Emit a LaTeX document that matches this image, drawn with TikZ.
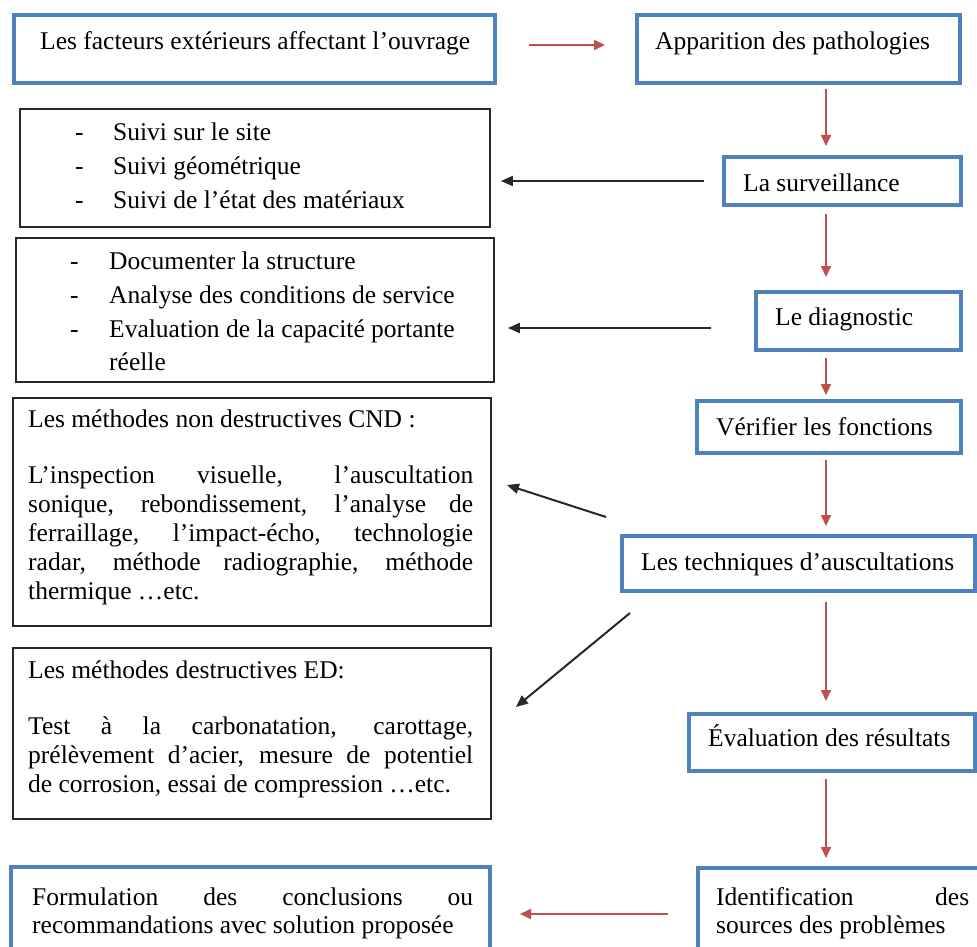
\documentclass[tikz,border=0pt]{standalone}
\usepackage{fontspec}
\setmainfont{Liberation Serif}
\usetikzlibrary{arrows.meta,calc}
\definecolor{bx}{RGB}{79,129,189}
\definecolor{rd}{RGB}{192,80,77}
\definecolor{dk}{RGB}{40,40,40}
\newcommand{\fs}{\fontsize{25.5}{28.5}\selectfont}
\newcommand{\jline}[2]{\makebox[#1][s]{#2}}
\begin{document}
\begin{tikzpicture}[x=1pt,y=-1pt,
 bluebox/.style={draw=bx, line width=4pt, inner sep=0pt, rectangle},
 blackbox/.style={draw=dk, line width=1.8pt, inner sep=0pt, rectangle},
 txt/.style={anchor=base west, inner sep=0pt, font=\fs, text=black},
 redarr/.style={draw=rd, line width=1.8pt, -{Triangle[length=11pt,width=10pt]}},
 blkarr/.style={draw=dk, line width=2pt, -{Triangle[length=12pt,width=10pt]}}]
\clip (0,0) rectangle (977,947);
\fill[white] (0,0) rectangle (977,947);
% blue boxes
\node[bluebox, minimum width=481pt, minimum height=68pt] (A) at (254.5,49) {};
\node[bluebox, minimum width=323pt, minimum height=68pt] (B) at (798.5,49) {};
\node[bluebox, minimum width=237pt, minimum height=48pt] (C) at (842.5,181) {};
\node[bluebox, minimum width=205pt, minimum height=58pt] (E) at (858.5,321) {};
\node[bluebox, minimum width=264pt, minimum height=52pt] (G) at (829,427) {};
\node[bluebox, minimum width=353pt, minimum height=55pt] (H) at (798.5,563.5) {};
\node[bluebox, minimum width=286pt, minimum height=57pt] (J) at (832,742.5) {};
\node[bluebox, minimum width=292pt, minimum height=92pt] (M) at (844,914) {};
\node[bluebox, minimum width=479pt, minimum height=93pt] (L) at (250.5,913.5) {};
% black boxes
\node[blackbox, minimum width=470pt, minimum height=118pt] (D) at (255,168) {};
\node[blackbox, minimum width=478pt, minimum height=144pt] (F) at (255,310) {};
\node[blackbox, minimum width=478pt, minimum height=228pt] (I) at (252,512) {};
\node[blackbox, minimum width=478pt, minimum height=171pt] (K) at (252,733.5) {};
% texts
\node[txt] (tA) at (40,50) {Les facteurs extérieurs affectant l’ouvrage};
\node[txt] (tB) at (655,50) {Apparition des pathologies};
\node[txt] (tC) at (743,191) {La surveillance};
\node[txt] (tE) at (775,325) {Le diagnostic};
\node[txt] (tG) at (716,435) {Vérifier les fonctions};
\node[txt] (tH) at (641,570) {Les techniques d’auscultations};
\node[txt] (tJ) at (708,746) {Évaluation des résultats};
% D list
\node[txt] (dD1) at (75,141) {-};
\node[txt] (dD2) at (75,175) {-};
\node[txt] (dD3) at (75,208) {-};
\node[txt] (tD1) at (113,141) {Suivi sur le site};
\node[txt] (tD2) at (113,175) {Suivi géométrique};
\node[txt] (tD3) at (113,208) {Suivi de l’état des matériaux};
% F list
\node[txt] (dF1) at (70,269) {-};
\node[txt] (dF2) at (70,303) {-};
\node[txt] (dF3) at (70,337) {-};
\node[txt] (tF1) at (109,269) {Documenter la structure};
\node[txt] (tF2) at (109,303) {Analyse des conditions de service};
\node[txt] (tF3) at (109,337) {Evaluation de la capacité portante};
\node[txt] (tF4) at (109,370) {réelle};
% I
\node[txt] (tI0) at (28,427) {Les méthodes non destructives CND :};
\node[txt] (tI1) at (28,483) {\jline{445pt}{L’inspection visuelle, l’auscultation}};
\node[txt] (tI2) at (28,512) {\jline{445pt}{sonique, rebondissement, l’analyse de}};
\node[txt] (tI3) at (28,541) {\jline{445pt}{ferraillage, l’impact-écho, technologie}};
\node[txt] (tI4) at (28,570) {\jline{445pt}{radar, méthode radiographie, méthode}};
\node[txt] (tI5) at (28,599) {thermique …etc.};
% K
\node[txt] (tK0) at (28,678) {Les méthodes destructives ED:};
\node[txt] (tK1) at (28,734) {\jline{445pt}{Test à la carbonatation, carottage,}};
\node[txt] (tK2) at (28,763) {\jline{445pt}{prélèvement d’acier, mesure de potentiel}};
\node[txt] (tK3) at (28,792) {de corrosion, essai de compression …etc.};
% L
\node[txt] (tL1) at (32,905) {\jline{441pt}{Formulation des conclusions ou}};
\node[txt] (tL2) at (32,933) {recommandations avec solution proposée};
% M
\node[txt] (tM1) at (716,905) {\jline{253pt}{Identification des}};
\node[txt] (tM2) at (716,933) {sources des problèmes};
% red arrows
\coordinate (spine) at (826,0);
\draw[redarr, shorten <=32pt, shorten >=30pt] ([yshift=4pt]A.east) -- ([yshift=4pt]B.west);
\draw[redarr, shorten <=4pt, shorten >=9pt] (B.south -| spine) -- (C.north -| spine);
\draw[redarr, shorten <=7pt, shorten >=13pt] (C.south -| spine) -- (E.north -| spine);
\draw[redarr, shorten <=6pt, shorten >=4pt] (E.south -| spine) -- (G.north -| spine);
\draw[redarr, shorten <=5pt, shorten >=8pt] (G.south -| spine) -- (H.north -| spine);
\draw[redarr, shorten <=9pt, shorten >=11pt] (H.south -| spine) -- (J.north -| spine);
\draw[redarr, shorten <=6pt, shorten >=8pt] (J.south -| spine) -- (M.north -| spine);
\draw[redarr, shorten <=28pt, shorten >=28pt] (M.west) -- (L.east |- M.west);
% black arrows
\coordinate (eOut) at ([yshift=-7pt]E.west);
\draw[blkarr, shorten <=18pt, shorten >=10pt] (C.west) -- (D.east |- C.west);
\draw[blkarr, shorten <=43pt, shorten >=13pt] (eOut) -- (F.east |- eOut);
\draw[blkarr] ($(H.north west)+(-14,-17)$) -- ($(I.east)+(15,-27)$);
\draw[blkarr] ($(H.south west)+(10,20)$) -- ($(K.east)+(24,-26.5)$);
\end{tikzpicture}
\end{document}
